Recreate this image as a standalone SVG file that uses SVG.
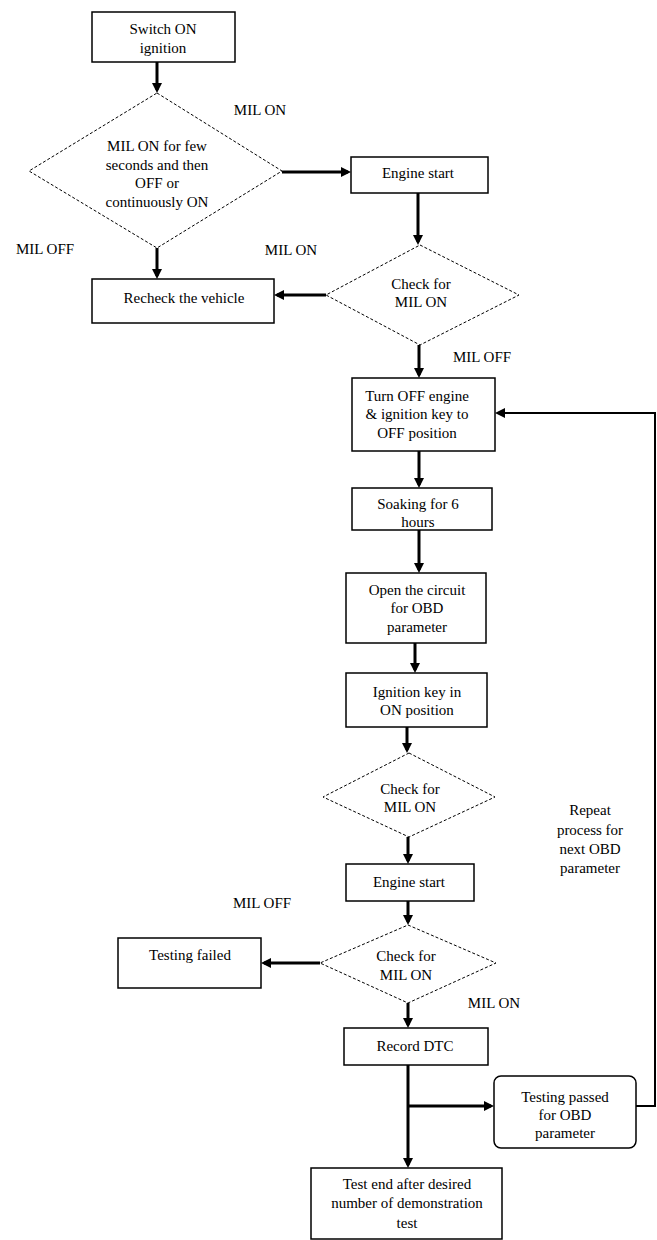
<svg xmlns="http://www.w3.org/2000/svg" width="657" height="1240" viewBox="0 0 657 1240">
<defs>
<marker id="ah" viewBox="0 0 10 10" refX="7" refY="5" markerWidth="10" markerHeight="10" markerUnits="userSpaceOnUse" orient="auto">
<path d="M0,0 L10,5 L0,10 z" fill="#000"/>
</marker>
</defs>
<style>
.box{fill:#fff;stroke:#000;stroke-width:1.5}
.dia{fill:#fff;stroke:#000;stroke-width:1;stroke-dasharray:3 2}
.t{font-family:"Liberation Serif","Times New Roman",serif;font-size:15px;fill:#000;text-anchor:middle}
.c{fill:none;stroke:#000;stroke-width:3;marker-end:url(#ah)}
.fb{fill:none;stroke:#000;stroke-width:2;marker-end:url(#ah)}
.ln{fill:none;stroke:#000;stroke-width:3}
</style>
<rect width="657" height="1240" fill="#fff"/>
<g id="connectors">
<path class="c" d="M157,62 V90"/>
<path class="c" d="M282,172 H348"/>
<path class="c" d="M418,193 V242"/>
<path class="c" d="M326,295 H277"/>
<path class="c" d="M157,248 V276"/>
<path class="c" d="M419,345 V375"/>
<path class="c" d="M419,451 V485"/>
<path class="c" d="M419,530 V570"/>
<path class="c" d="M415,643 V670"/>
<path class="c" d="M407,727 V750"/>
<path class="c" d="M408,837 V861"/>
<path class="c" d="M408,901 V922"/>
<path class="c" d="M320,963 H264"/>
<path class="c" d="M408,1003 V1025"/>
<path class="c" d="M408,1065 V1165"/>
<path class="c" d="M408,1106 H491"/>
<path class="fb" d="M636,1106 H655 V413 H498"/>
</g>
<g id="n_switch"><rect class="box" x="92" y="12" width="143" height="50"/><text class="t" x="163" y="34">Switch ON</text><text class="t" x="163" y="53">ignition</text></g>
<g id="d_milon"><polygon class="dia" points="157,93 282,171 157,248 29,171"/><text class="t" x="157" y="151">MIL ON for few</text><text class="t" x="157" y="170">seconds and then</text><text class="t" x="157" y="188">OFF or</text><text class="t" x="157" y="207">continuously ON</text></g>
<g id="n_engine1"><rect class="box" x="351" y="157" width="137" height="36"/><text class="t" x="418" y="178">Engine start</text></g>
<g id="d_check1"><polygon class="dia" points="420,245 519,295 420,345 326,295"/><text class="t" x="421" y="289">Check for</text><text class="t" x="421" y="307">MIL ON</text></g>
<g id="n_recheck"><rect class="box" x="92" y="279" width="182" height="44"/><text class="t" x="184" y="303">Recheck the vehicle</text></g>
<g id="n_turnoff"><rect class="box" x="352" y="378" width="143" height="73"/><text class="t" x="417" y="401">Turn OFF engine</text><text class="t" x="417" y="419">&amp; ignition key to</text><text class="t" x="417" y="438">OFF position</text></g>
<g id="n_soak"><rect class="box" x="352" y="488" width="140" height="42"/><text class="t" x="418" y="509">Soaking for 6</text><text class="t" x="418" y="527">hours</text></g>
<g id="n_open"><rect class="box" x="346" y="573" width="140" height="70"/><text class="t" x="417" y="595">Open the circuit</text><text class="t" x="417" y="613">for OBD</text><text class="t" x="417" y="632">parameter</text></g>
<g id="n_ignition"><rect class="box" x="346" y="673" width="141" height="54"/><text class="t" x="417" y="697">Ignition key in</text><text class="t" x="417" y="715">ON position</text></g>
<g id="d_check2"><polygon class="dia" points="409,753 495,797 409,837 323,797"/><text class="t" x="410" y="794">Check for</text><text class="t" x="410" y="812">MIL ON</text></g>
<g id="n_engine2"><rect class="box" x="346" y="864" width="128" height="37"/><text class="t" x="409" y="887">Engine start</text></g>
<g id="d_check3"><polygon class="dia" points="408,925 496,963 408,1003 320,963"/><text class="t" x="406" y="961">Check for</text><text class="t" x="406" y="980">MIL ON</text></g>
<g id="n_failed"><rect class="box" x="118" y="938" width="143" height="50"/><text class="t" x="190" y="960">Testing failed</text></g>
<g id="n_record"><rect class="box" x="344" y="1028" width="144" height="37"/><text class="t" x="415" y="1051">Record DTC</text></g>
<g id="n_passed"><rect class="box" x="494" y="1076" width="142" height="72" rx="7"/><text class="t" x="565" y="1102">Testing passed</text><text class="t" x="565" y="1120">for OBD</text><text class="t" x="565" y="1138">parameter</text></g>
<g id="n_end"><rect class="box" x="311" y="1168" width="191" height="71"/><text class="t" x="407" y="1189">Test end after desired</text><text class="t" x="407" y="1208">number of demonstration</text><text class="t" x="407" y="1228">test</text></g>
<g id="labels">
<text class="t" x="260" y="115">MIL ON</text>
<text class="t" x="45" y="254">MIL OFF</text>
<text class="t" x="291" y="255">MIL ON</text>
<text class="t" x="482" y="362">MIL OFF</text>
<text class="t" x="262" y="908">MIL OFF</text>
<text class="t" x="494" y="1008">MIL ON</text>
<text class="t" x="590" y="815">Repeat</text>
<text class="t" x="590" y="835">process for</text>
<text class="t" x="590" y="854">next OBD</text>
<text class="t" x="590" y="873">parameter</text>
</g>
</svg>
